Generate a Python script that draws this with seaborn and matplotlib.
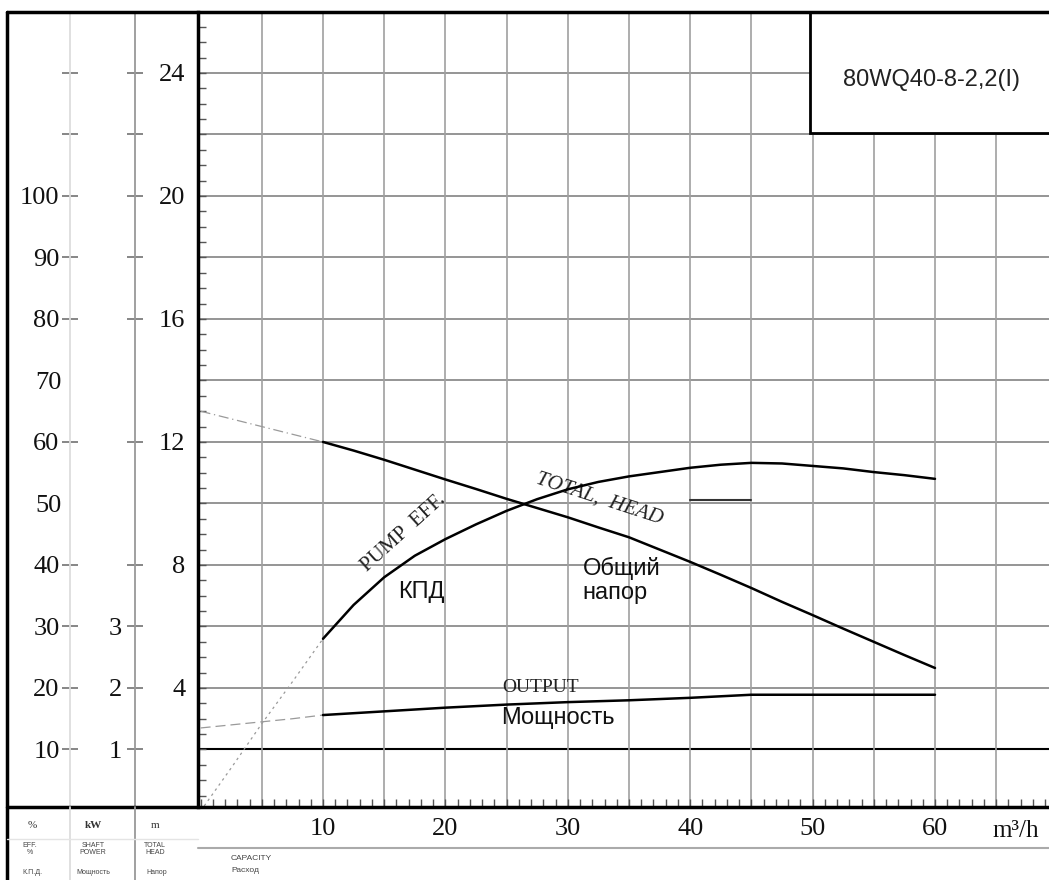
import numpy as np
import matplotlib
matplotlib.use('Agg')
import matplotlib.pyplot as plt
import seaborn as sns
from matplotlib.patches import Rectangle
from matplotlib.ticker import MultipleLocator

# values (every 2.5 m3/h)
flow = [0, 2.5, 5, 7.5, 10, 12.5, 15, 17.5, 20, 22.5, 25, 27.5, 30,
        32.5, 35, 37.5, 40, 42.5, 45, 47.5, 50, 52.5, 55, 57.5, 60]
head = [13.0, 12.75, 12.5, 12.25, 12.0, 11.72, 11.42, 11.1, 10.78, 10.47,
        10.15, 9.85, 9.55, 9.22, 8.9, 8.5, 8.1, 7.68, 7.25, 6.8, 6.37,
        5.93, 5.5, 5.07, 4.65]
eff = [0, 7, 14.2, 21, 28, 33.5, 38, 41.5, 44.2, 46.6, 48.8, 50.7, 52.3,
       53.5, 54.4, 55.1, 55.8, 56.3, 56.6, 56.5, 56.1, 55.7, 55.1, 54.6, 54.0]
power = [1.35, 1.40, 1.45, 1.50, 1.56, 1.59, 1.62, 1.65, 1.68, 1.705,
         1.73, 1.75, 1.77, 1.785, 1.80, 1.82, 1.84, 1.865, 1.89, 1.89,
         1.89, 1.89, 1.89, 1.89, 1.89]
rated_flow = [40, 45]
rated_head = [10.1, 10.1]

flow_ticks = [10, 20, 30, 40, 50, 60]
head_ticks = [4, 8, 12, 16, 20, 24]
pct_ticks = [10, 20, 30, 40, 60, 80, 90, 100, 110, 120]
pct_labels = ['10', '20', '30', '40', '60', '80', '90', '100', '', '']
pct_extra = [50, 70]
kw_ticks = [1, 2, 3, 4, 6, 8, 9, 10, 11, 12]
kw_labels = ['1', '2', '3', '', '', '', '', '', '', '']
model = '80WQ40-8-2,2(I)'

sns.set_theme(style='white')
plt.rcParams['font.family'] = ['Liberation Serif', 'DejaVu Serif']
SANS = ['Liberation Sans', 'DejaVu Sans']

W, H = 1049, 880
fig = plt.figure(figsize=(W / 100, H / 100), dpi=100, facecolor='white')


def box(x0, y0, x1, y1):
    # pixel box (top-left origin) -> figure rect
    return [x0 / W, 1 - y1 / H, (x1 - x0) / W, (y1 - y0) / H]


head_lim = np.array([0.13, 25.98])
flow_lim = ((198 - 200.6) / 12.24, (1060 - 200.6) / 12.24)

# ---- main chart ----
ax = fig.add_axes(box(198, 12, 1060, 807))
ax.set_xlim(flow_lim)
ax.set_ylim(head_lim)
ax.set_facecolor('none')
for y in np.arange(2, 26, 2):
    ax.axhline(y, color='black' if y == 2 else '#8c8c8c',
               lw=1.5 if y == 2 else 1.3, zorder=0)
for x in np.arange(5, 70, 5):
    ax.axvline(x, color='#a0a0a0', lw=1.2, zorder=0)

for s in ['top', 'right', 'bottom']:
    ax.spines[s].set_visible(False)
ax.spines['left'].set_color('black')
ax.spines['left'].set_linewidth(2.5)

ax.set_xticks(flow_ticks, [str(v) for v in flow_ticks])
ax.xaxis.set_minor_locator(MultipleLocator(1))
ax.set_yticks(head_ticks, [str(v) for v in head_ticks])
ax.yaxis.set_minor_locator(MultipleLocator(0.5))
ax.tick_params(axis='both', which='both', direction='in', length=6,
               width=1, color='#555555', labelsize=19, labelcolor='#111111')
ax.tick_params(axis='y', which='major', pad=9)
ax.tick_params(axis='x', which='major', pad=8)
ax.tick_params(bottom=True, left=True, which='both')

ax_e = ax.twinx()
ax_e.set_ylim(head_lim * 5)
ax_p = ax.twinx()
ax_p.set_ylim(head_lim / 2)
for a in (ax_e, ax_p):
    a.set_yticks([])
    for s in a.spines.values():
        s.set_visible(False)

f = np.array(flow)
part = f <= 10
main = f >= 10

sns.lineplot(x=f[part], y=np.array(head)[part], ax=ax, color='#9a9a9a',
             lw=0.9, linestyle=(0, (8, 3, 1, 3)))
sns.lineplot(x=f[main], y=np.array(head)[main], ax=ax, color='black', lw=1.8)
sns.lineplot(x=f[part], y=np.array(eff)[part], ax=ax_e, color='#9a9a9a',
             lw=0.9, linestyle=(0, (2, 3)))
sns.lineplot(x=f[main], y=np.array(eff)[main], ax=ax_e, color='black', lw=1.8)
sns.lineplot(x=f[part], y=np.array(power)[part], ax=ax_p, color='#9a9a9a',
             lw=0.9, linestyle=(0, (8, 4)))
sns.lineplot(x=f[main], y=np.array(power)[main], ax=ax_p, color='black', lw=1.8)
sns.lineplot(x=rated_flow, y=rated_head, ax=ax, color='#333333', lw=1.5)
for a in (ax, ax_e, ax_p):
    a.set_xlabel('')
    a.set_ylabel('')

ax.text(16.6, 9.05, 'PUMP  EFF.', rotation=42, rotation_mode='anchor',
        ha='center', va='center', fontsize=15, color='#222222')
ax.text(18.0, 7.12, 'КПД', ha='center', va='center', fontsize=17,
        family=SANS, color='#111111')
ax.text(32.6, 10.15, 'TOTAL,  HEAD', rotation=-18, rotation_mode='anchor',
        ha='center', va='center', fontsize=15, style='italic', color='#222222')
ax.text(31.2, 7.5, 'Общий\nнапор', ha='left', va='center', fontsize=17,
        family=SANS, color='#111111', linespacing=1.15)
ax.text(27.8, 4.0, 'OUTPUT', ha='center', va='center', fontsize=14,
        color='#222222')
ax.text(29.2, 3.02, 'Мощность', ha='center', va='center', fontsize=17,
        family=SANS, color='#111111')

# ---- left scales ----
ax_pct = fig.add_axes(box(70, 12, 135, 807))
ax_pct.set_ylim(head_lim * 5)
ax_kw = fig.add_axes(box(135, 12, 198, 807))
ax_kw.set_ylim(head_lim / 2)
for a, col in ((ax_pct, '#dddddd'), (ax_kw, '#999999')):
    a.set_facecolor('none')
    a.set_xticks([])
    for s in ['top', 'right', 'bottom']:
        a.spines[s].set_visible(False)
    a.spines['left'].set_color(col)
    a.spines['left'].set_linewidth(1.3)
    a.tick_params(axis='y', which='major', direction='inout', length=11,
                  width=1.1, color='#666666', labelsize=19,
                  labelcolor='#111111', pad=2)
    a.tick_params(left=True)
ax_pct.set_yticks(pct_ticks, pct_labels)
ax_pct.set_yticks(pct_extra, [str(v) for v in pct_extra], minor=True)
ax_pct.tick_params(axis='y', which='minor', length=0, pad=6,
                   labelsize=19, labelcolor='#111111')
ax_kw.set_yticks(kw_ticks, kw_labels)
ax_kw.tick_params(axis='y', which='major', pad=4)

# ---- frame and captions (pixel overlay) ----
ov = fig.add_axes([0, 0, 1, 1], zorder=5)
ov.set_xlim(0, W)
ov.set_ylim(H, 0)
ov.axis('off')
ov.plot([7, 7], [12, H], color='black', lw=2.5)
ov.plot([7, W], [12, 12], color='black', lw=2.5)
ov.plot([7, W], [807, 807], color='black', lw=2.5)
ov.plot([70, 70], [807, H], color='#dddddd', lw=1.3)
ov.plot([135, 135], [807, H], color='#999999', lw=1.3)
ov.plot([198, W], [848, 848], color='#aaaaaa', lw=1.5)
ov.plot([7, 198], [839, 839], color='#e4e4e4', lw=1)
ov.add_patch(Rectangle((810, 12), 260, 121, facecolor='white',
                       edgecolor='black', lw=2))
ov.text(932, 80, model, ha='center', va='center', fontsize=17,
        family=SANS, color='#222222')
ov.text(1016, 831, 'm³/h', ha='center', va='center', fontsize=18,
        color='#111111')

ov.text(32, 826, '%', ha='center', va='center', fontsize=8, color='#333333')
ov.text(93, 826, 'kW', ha='center', va='center', fontsize=8,
        weight='bold', color='#333333')
ov.text(155, 826, 'm', ha='center', va='center', fontsize=8, color='#333333')
small = dict(ha='center', va='center', fontsize=5, color='#444444',
             family=SANS, linespacing=1.0)
ov.text(30, 849, 'EFF.\n%', **small)
ov.text(93, 849, 'SHAFT\nPOWER', **small)
ov.text(155, 849, 'TOTAL\nHEAD', **small)
ov.text(32, 873, 'К.П.Д.', **small)
ov.text(93, 873, 'Мощность', **small)
ov.text(157, 873, 'Напор', **small)
ov.text(231, 859, 'CAPACITY', ha='left', va='center', fontsize=6,
        color='#444444', family=SANS)
ov.text(231, 871, 'Расход', ha='left', va='center', fontsize=6,
        color='#444444', family=SANS)

fig.savefig('out.png', dpi=100, facecolor='white')
